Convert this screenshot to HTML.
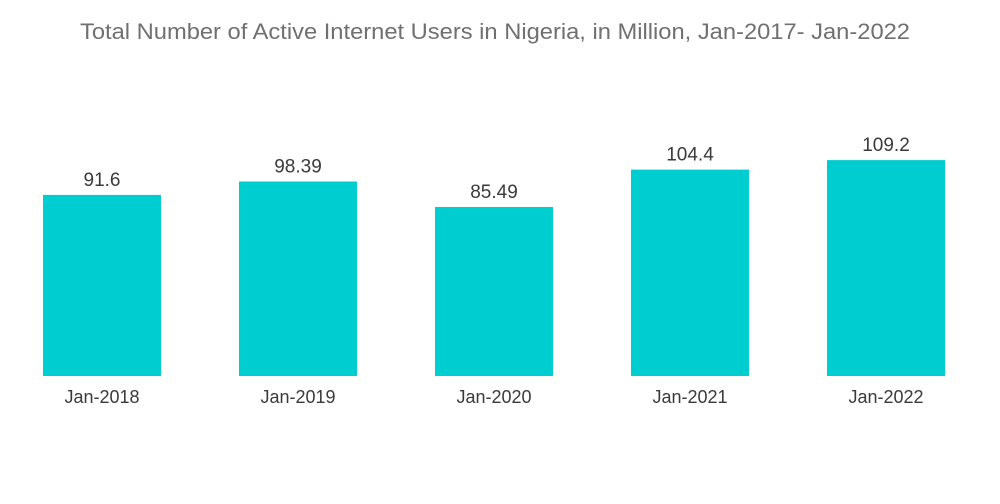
<!DOCTYPE html>
<html><head><meta charset="utf-8"><style>
html,body{margin:0;padding:0;background:#fff;}
svg{display:block;font-family:"Liberation Sans",sans-serif;}
</style></head><body>
<svg id="chart" width="1000" height="504">
<text x="495" y="39" text-anchor="middle" font-size="22" textLength="830" lengthAdjust="spacingAndGlyphs" fill="#707070">Total Number of Active Internet Users in Nigeria, in Million, Jan-2017- Jan-2022</text>
<g id="bars"></g>
</svg>
<script>
const categories = ["Jan-2018","Jan-2019","Jan-2020","Jan-2021","Jan-2022"];
const values = [91.6, 98.39, 85.49, 104.4, 109.2];
const valueLabels = ["91.6","98.39","85.49","104.4","109.2"];
const baseY = 376, pxPerUnit = 1.977, x0 = 43, step = 196, bw = 118;
const yScale = v => baseY - v * pxPerUnit;
const xScale = i => x0 + i * step;
const g = document.getElementById('bars');
const NS = "http://www.w3.org/2000/svg";
categories.forEach((c, i) => {
  const x = xScale(i), y = yScale(values[i]);
  const r = document.createElementNS(NS, 'rect');
  r.setAttribute('x', x); r.setAttribute('y', y);
  r.setAttribute('width', bw); r.setAttribute('height', baseY - y);
  r.setAttribute('fill', '#00cdd0');
  
  
  g.appendChild(r);
  const t = document.createElementNS(NS, 'text');
  t.setAttribute('x', x + bw / 2); t.setAttribute('y', y - 9);
  t.setAttribute('text-anchor', 'middle'); t.setAttribute('font-size', '19');
  t.setAttribute('fill', '#3a3a3a');
  t.textContent = valueLabels[i];
  
  
  g.appendChild(t);
  const l = document.createElementNS(NS, 'text');
  l.setAttribute('x', x + bw / 2); l.setAttribute('y', 403);
  l.setAttribute('text-anchor', 'middle'); l.setAttribute('font-size', '18');
  l.setAttribute('fill', '#3a3a3a');
  l.textContent = c;
  
  
  g.appendChild(l);
});
</script>
</body></html>
